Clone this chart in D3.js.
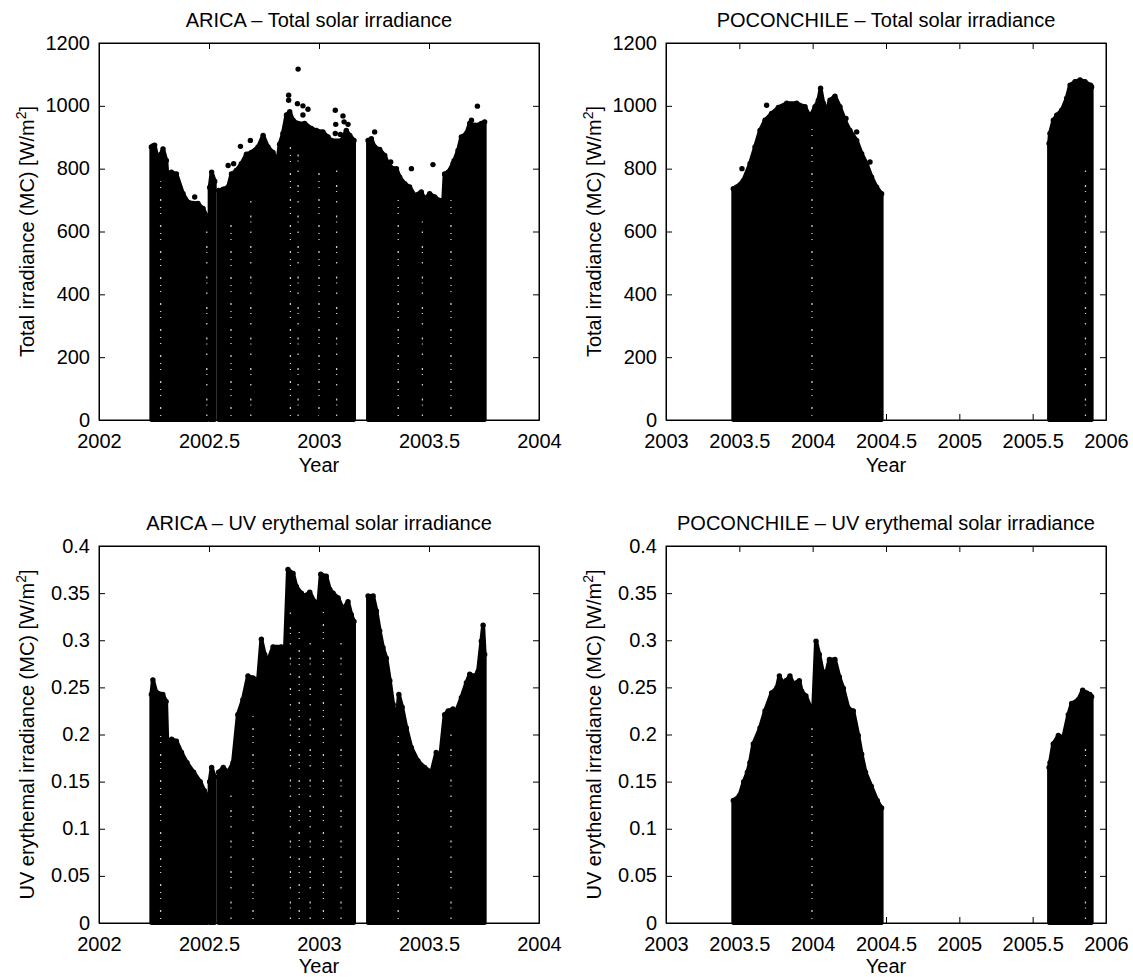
<!DOCTYPE html>
<html>
<head>
<meta charset="utf-8">
<script src="https://cdn.jsdelivr.net/npm/d3@7"></script>
<style>
  body { margin: 0; background: #fff; }
  text { font-family: "Liberation Sans", Arial, Helvetica, sans-serif; fill: #000; }
</style>
</head>
<body>
<svg id="fig" width="1133" height="977"></svg>
<script>
// tick values
const aricaYears = [2002, 2002.5, 2003, 2003.5, 2004];
const pocoYears = [2003, 2003.5, 2004, 2004.5, 2005, 2005.5, 2006];
const totalTicks = [0, 200, 400, 600, 800, 1000, 1200];
const uvTicks = [0, 0.05, 0.1, 0.15, 0.2, 0.25, 0.3, 0.35, 0.4];

// upper envelope (daily maxima) of each continuous measuring period, [year, value]
const aricaTotalBlocks = [
  [[2002.238,869],[2002.245,872],[2002.253,875],[2002.268,826],[2002.28,845],[2002.291,863],[2002.306,826],[2002.311,773],[2002.329,789],[2002.352,783],[2002.382,720],[2002.405,693],[2002.45,689],[2002.473,673],[2002.493,646]],
  [[2002.503,740],[2002.512,789],[2002.526,760]],
  [[2002.544,731],[2002.565,735],[2002.587,742],[2002.602,783],[2002.624,794],[2002.647,816],[2002.670,846],[2002.693,852],[2002.723,869],[2002.746,906],[2002.768,869],[2002.791,852],[2002.811,821],[2002.821,878],[2002.836,912],[2002.852,971],[2002.867,981],[2002.882,954],[2002.905,944],[2002.935,944],[2002.965,928],[2002.988,922],[2003.018,917],[2003.041,901],[2003.056,890],[2003.102,890],[2003.124,922],[2003.140,906],[2003.159,890]],
  [[2003.223,890],[2003.238,895],[2003.253,869],[2003.276,861],[2003.299,842],[2003.314,816],[2003.337,800],[2003.352,800],[2003.367,773],[2003.390,752],[2003.412,742],[2003.435,715],[2003.465,726],[2003.480,704],[2003.503,720],[2003.526,710],[2003.549,699],[2003.564,689],[2003.571,783],[2003.587,789],[2003.609,816],[2003.632,858],[2003.647,901],[2003.670,912],[2003.685,944],[2003.708,938],[2003.738,944],[2003.753,949]]
];
const aricaTotalOutliers = [[2002.435,710],[2002.587,810],[2002.612,816],[2002.643,871],[2002.688,890],[2002.746,890],[2002.862,1034],[2002.862,1018],[2002.905,1117],[2002.902,1007],[2002.927,1000],[2002.927,971],[2002.950,989],[2003.074,986],[2003.076,941],[2003.074,912],[2003.097,909],[2003.109,968],[2003.114,949],[2003.132,941],[2003.253,917],[2003.326,821],[2003.420,800],[2003.518,813],[2003.614,825],[2003.693,954],[2003.720,999]];
// days with thinner sampling (white speckled columns), [year, top value]
const aricaTotalSparse = [[2002.28,760],[2002.49,600],[2002.60,640],[2002.69,700],[2002.87,900],[2002.905,860],[2003.00,820],[2003.08,820],[2003.36,700],[2003.47,640],[2003.60,700]];

const pocoTotalBlocks = [
  [[2003.459,736],[2003.48,741],[2003.527,762],[2003.573,816],[2003.607,869],[2003.641,922],[2003.675,954],[2003.720,976],[2003.766,995],[2003.823,1008],[2003.891,1008],[2003.948,997],[2003.982,965],[2004.016,997],[2004.039,1018],[2004.054,1056],[2004.073,1008],[2004.095,986],[2004.118,1018],[2004.152,1031],[2004.186,997],[2004.220,954],[2004.254,922],[2004.300,890],[2004.334,848],[2004.368,816],[2004.402,773],[2004.436,741],[2004.470,720]],
  [[2005.612,880],[2005.618,912],[2005.641,954],[2005.664,970],[2005.698,986],[2005.732,1024],[2005.755,1066],[2005.789,1077],[2005.823,1082],[2005.857,1077],[2005.895,1066],[2005.902,1060]]
];
const pocoTotalOutliers = [[2003.518,800],[2003.686,1002],[2004.227,960],[2004.300,917],[2004.391,821]];
const pocoTotalSparse = [[2003.995,940],[2005.86,800]];

const aricaUvBlocks = [
  [[2002.238,0.2425],[2002.245,0.258],[2002.26,0.245],[2002.29,0.2425],[2002.305,0.235],[2002.311,0.186],[2002.33,0.195],[2002.352,0.193],[2002.375,0.181],[2002.40,0.17],[2002.43,0.16],[2002.46,0.15],[2002.48,0.14],[2002.493,0.135]],
  [[2002.503,0.15],[2002.512,0.165],[2002.526,0.155]],
  [[2002.544,0.16],[2002.565,0.165],[2002.587,0.16],[2002.609,0.17],[2002.631,0.221],[2002.654,0.237],[2002.677,0.262],[2002.700,0.260],[2002.723,0.258],[2002.738,0.301],[2002.753,0.285],[2002.768,0.278],[2002.791,0.293],[2002.829,0.293],[2002.844,0.282],[2002.859,0.375],[2002.882,0.371],[2002.897,0.357],[2002.920,0.350],[2002.935,0.347],[2002.958,0.351],[2002.980,0.341],[2002.996,0.336],[2003.008,0.370],[2003.033,0.368],[2003.049,0.354],[2003.064,0.350],[2003.087,0.345],[2003.109,0.333],[2003.132,0.341],[2003.147,0.327],[2003.159,0.320]],
  [[2003.223,0.347],[2003.246,0.347],[2003.261,0.331],[2003.276,0.310],[2003.291,0.292],[2003.306,0.281],[2003.322,0.257],[2003.337,0.232],[2003.352,0.211],[2003.363,0.2425],[2003.378,0.229],[2003.397,0.207],[2003.420,0.186],[2003.450,0.172],[2003.480,0.165],[2003.511,0.16],[2003.533,0.181],[2003.549,0.172],[2003.571,0.221],[2003.587,0.225],[2003.609,0.227],[2003.624,0.225],[2003.647,0.239],[2003.670,0.255],[2003.685,0.264],[2003.708,0.262],[2003.723,0.267],[2003.738,0.299],[2003.746,0.316],[2003.753,0.285]]
];
const aricaUvSparse = [[2002.28,0.2],[2002.60,0.14],[2002.70,0.22],[2002.87,0.33],[2002.91,0.31],[2002.96,0.3],[2003.02,0.33],[2003.10,0.3],[2003.36,0.2],[2003.60,0.2]];

const pocoUvBlocks = [
  [[2003.459,0.13],[2003.50,0.135],[2003.53,0.15],[2003.555,0.16],[2003.572,0.17],[2003.595,0.19],[2003.641,0.207],[2003.675,0.225],[2003.720,0.244],[2003.755,0.2495],[2003.773,0.262],[2003.795,0.255],[2003.818,0.257],[2003.845,0.262],[2003.868,0.254],[2003.909,0.257],[2003.925,0.246],[2003.954,0.241],[2003.982,0.230],[2004.004,0.228],[2004.023,0.299],[2004.045,0.285],[2004.068,0.267],[2004.091,0.264],[2004.114,0.2796],[2004.152,0.2796],[2004.182,0.261],[2004.209,0.249],[2004.243,0.228],[2004.277,0.225],[2004.311,0.199],[2004.334,0.179],[2004.36,0.16],[2004.40,0.145],[2004.44,0.13],[2004.47,0.122]],
  [[2005.612,0.165],[2005.618,0.17],[2005.64,0.19],[2005.675,0.199],[2005.709,0.197],[2005.743,0.221],[2005.766,0.233],[2005.811,0.237],[2005.841,0.247],[2005.868,0.244],[2005.89,0.2425],[2005.902,0.24]]
];
const pocoUvSparse = [[2003.995,0.21],[2005.86,0.19]];

const svg = d3.select("#fig");
svg.append("rect").attr("width", 1133).attr("height", 977).attr("fill", "#fff");

const W = 440, H = 377;
const fs = 20;

const panels = [
  { left: 99, top: 43, xd: [2002, 2004], yd: [0, 1200], xt: aricaYears, yt: totalTicks,
    blocks: aricaTotalBlocks, outliers: aricaTotalOutliers, sparse: aricaTotalSparse, yearY: 52,
    title: "ARICA \u2013 Total solar irradiance", ylab: "Total irradiance (MC) [W/m" },
  { left: 666, top: 43, xd: [2003, 2006], yd: [0, 1200], xt: pocoYears, yt: totalTicks,
    blocks: pocoTotalBlocks, outliers: pocoTotalOutliers, sparse: pocoTotalSparse, yearY: 52,
    title: "POCONCHILE \u2013 Total solar irradiance", ylab: "Total irradiance (MC) [W/m" },
  { left: 99, top: 546, xd: [2002, 2004], yd: [0, 0.4], xt: aricaYears, yt: uvTicks,
    blocks: aricaUvBlocks, outliers: [], sparse: aricaUvSparse, yearY: 50,
    title: "ARICA \u2013 UV erythemal solar irradiance", ylab: "UV erythemal irradiance (MC) [W/m" },
  { left: 666, top: 546, xd: [2003, 2006], yd: [0, 0.4], xt: pocoYears, yt: uvTicks,
    blocks: pocoUvBlocks, outliers: [], sparse: pocoUvSparse, yearY: 50,
    title: "POCONCHILE \u2013 UV erythemal solar irradiance", ylab: "UV erythemal irradiance (MC) [W/m" }
];

panels.forEach(drawPanel);

function drawPanel(p) {
  const g = svg.append("g").attr("transform", `translate(${p.left},${p.top})`);
  const x = d3.scaleLinear().domain(p.xd).range([0, W]);
  const y = d3.scaleLinear().domain(p.yd).range([H, 0]);

  // filled cloud of points under the daily maxima
  const area = d3.area()
    .x(d => x(d[0]))
    .y0(y(0))
    .y1(d => y(d[1]));

  g.selectAll("path.block")
    .data(p.blocks)
    .enter()
    .append("path")
    .attr("class", "block")
    .attr("d", area)
    .attr("fill", "#000")
    .attr("stroke", "#000")
    .attr("stroke-width", 4)
    .attr("stroke-linejoin", "round");

  // speckled white columns where sampling is thinner
  g.selectAll("line.sparse")
    .data(p.sparse)
    .enter()
    .append("line")
    .attr("class", "sparse")
    .attr("x1", d => x(d[0]))
    .attr("x2", d => x(d[0]))
    .attr("y1", y(0) - 4)
    .attr("y2", d => y(d[1]))
    .attr("stroke", "#fff")
    .attr("stroke-width", 1.3)
    .attr("stroke-dasharray", (d, i) => i % 2 ? "1.5,9,1,4,2,13" : "1,6,2,11,1,5")
    .attr("opacity", 0.8);

  // dots along the upper edge and the scattered high points
  const dots = p.blocks.flat().concat(p.outliers);
  g.selectAll("circle.dot")
    .data(dots)
    .enter()
    .append("circle")
    .attr("class", "dot")
    .attr("cx", d => x(d[0]))
    .attr("cy", d => y(d[1]))
    .attr("r", 2.7)
    .attr("fill", "#000");

  // axes, ticks pointing inwards like matlab
  const bottom = g.append("g")
    .attr("transform", `translate(0,${H})`)
    .call(d3.axisBottom(x).tickValues(p.xt).tickSizeInner(-6).tickSizeOuter(0)
      .tickPadding(14).tickFormat(d => String(d)));
  const left = g.append("g")
    .call(d3.axisLeft(y).tickValues(p.yt).tickSizeInner(-6).tickSizeOuter(0)
      .tickPadding(9).tickFormat(d => String(+d.toFixed(2))));
  left.selectAll(".tick text").attr("dy", "0.3em");
  g.append("g")
    .call(d3.axisTop(x).tickValues(p.xt).tickSizeInner(-6).tickSizeOuter(0).tickFormat(""));
  g.append("g")
    .attr("transform", `translate(${W},0)`)
    .call(d3.axisRight(y).tickValues(p.yt).tickSizeInner(-6).tickSizeOuter(0).tickFormat(""));

  [bottom, left].forEach(a => a.attr("font-size", fs));
  g.selectAll(".domain").attr("stroke", "#000");

  g.append("rect")
    .attr("width", W)
    .attr("height", H)
    .attr("fill", "none")
    .attr("stroke", "#000")
    .attr("stroke-width", 1);

  // labels
  g.append("text")
    .attr("x", W / 2)
    .attr("y", -16)
    .attr("text-anchor", "middle")
    .attr("font-size", fs)
    .text(p.title);

  g.append("text")
    .attr("x", W / 2)
    .attr("y", H + p.yearY)
    .attr("text-anchor", "middle")
    .attr("font-size", fs)
    .text("Year");

  const yl = g.append("text")
    .attr("transform", `translate(-65,${H / 2}) rotate(-90)`)
    .attr("text-anchor", "middle")
    .attr("font-size", fs);
  yl.append("tspan").text(p.ylab);
  yl.append("tspan").attr("font-size", fs * 0.7).attr("dy", -8).text("2");
  yl.append("tspan").attr("dy", 8).text("]");
}
</script>
</body>
</html>
